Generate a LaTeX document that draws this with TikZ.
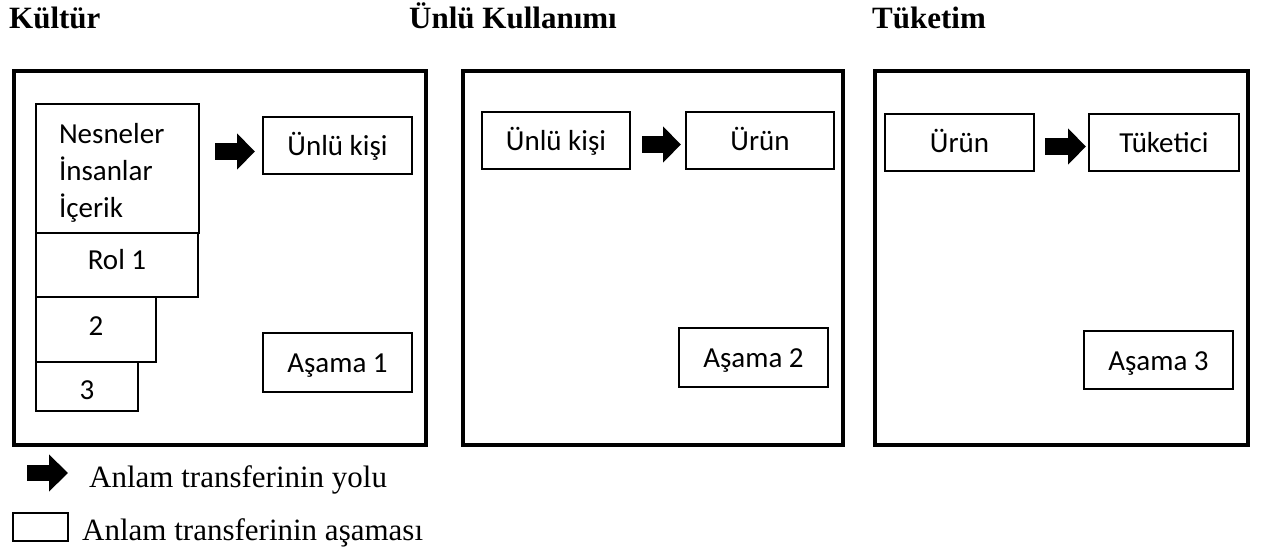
\documentclass[tikz,border=0pt]{standalone}
\usepackage{fontspec}
\setmainfont{Liberation Serif}
\newfontfamily\boxfont{Carlito}
\usetikzlibrary{positioning,calc,arrows.meta}

\begin{document}
\begin{tikzpicture}[x=1pt,y=-1pt,
  stagebox/.style={draw,line width=1.6pt,rectangle,inner sep=0,outer sep=0,anchor=north west,text height=24pt,text depth=4pt,font=\boxfont\fontsize{29}{37}\selectfont},
  framebox/.style={draw,line width=4.6pt,rectangle,inner sep=0,outer sep=0,anchor=north west,minimum height=374pt},
  pathpointer/.style={line width=17pt,-{Triangle[length=18pt,width=35pt]}},
  heading/.style={inner sep=0,anchor=base west,font=\bfseries\fontsize{31}{37}\selectfont},
  keytext/.style={inner sep=0,anchor=base west,font=\fontsize{31}{37}\selectfont}]
\useasboundingbox (0,0) rectangle (1267,555);
\foreach \x/\t [count=\i] in {9/Kültür,409/Ünlü Kullanımı,872/Tüketim} {
  \node[heading] (title\i) at (\x,28) {\t};
}
\foreach \x/\w [count=\i] in {14/412,463/380,875/373} {
  \node[framebox,minimum width=\w pt] (frame\i) at (\x,71) {};
}
% Kültür
\node[stagebox,minimum width=163pt,minimum height=129pt,text width=117pt,inner xsep=23pt,align=left,text height=20pt,text depth=71pt] (sources) at (36,104) {Nesneler\\İnsanlar\\İçerik};
\node[stagebox,minimum width=162pt,minimum height=64pt,text height=12pt] (role1) at (36,233) {Rol 1};
\node[stagebox,minimum width=120pt,minimum height=65pt,text height=15pt] (role2) at (36,297) {2};
\node[stagebox,minimum width=102pt,minimum height=49pt,text height=29pt] (role3) at (36,362) {3};
\node[stagebox,minimum width=149pt,minimum height=57pt] (star1) at (263,117) {Ünlü kişi};
\node[stagebox,minimum width=149pt,minimum height=59pt] (stage1) at (263,333) {Aşama 1};
\draw[pathpointer,shorten <=16pt,shorten >=8pt] ($(sources.east |- star1.west)+(0,6)$) -- ($(star1.west)+(0,6)$);
% Ünlü Kullanımı
\node[stagebox,minimum width=148pt,minimum height=57pt] (star2) at (482,112) {Ünlü kişi};
\node[stagebox,minimum width=148pt,minimum height=57pt] (product2) at (686,112) {Ürün};
\node[stagebox,minimum width=149pt,minimum height=59pt] (stage2) at (679,328) {Aşama 2};
\draw[pathpointer,shorten <=12pt,shorten >=5pt] ($(star2.east)+(0,4)$) -- ($(product2.west)+(0,4)$);
% Tüketim
\node[stagebox,minimum width=149pt,minimum height=57pt] (product3) at (885,114) {Ürün};
\node[stagebox,minimum width=150pt,minimum height=57pt] (consumer3) at (1089,114) {Tüketici};
\node[stagebox,minimum width=149pt,minimum height=58pt] (stage3) at (1084,331) {Aşama 3};
\draw[pathpointer,shorten <=11pt,shorten >=3pt] ($(product3.east)+(0,4)$) -- ($(consumer3.west)+(0,4)$);
% legend
\coordinate (keytail) at (27,473);
\coordinate (keyhead) at (68,473);
\draw[pathpointer,line width=16pt,-{Triangle[length=19pt,width=36pt]}] (keytail) -- (keyhead);
\node[keytext] (keypath) at (89,487) {Anlam transferinin yolu};
\node[stagebox,minimum width=55pt,minimum height=28pt,text height=0pt,text depth=0pt] (keybox) at (13,513) {};
\node[keytext] (keystage) at (82,540) {Anlam transferinin aşaması};
\end{tikzpicture}
\end{document}
